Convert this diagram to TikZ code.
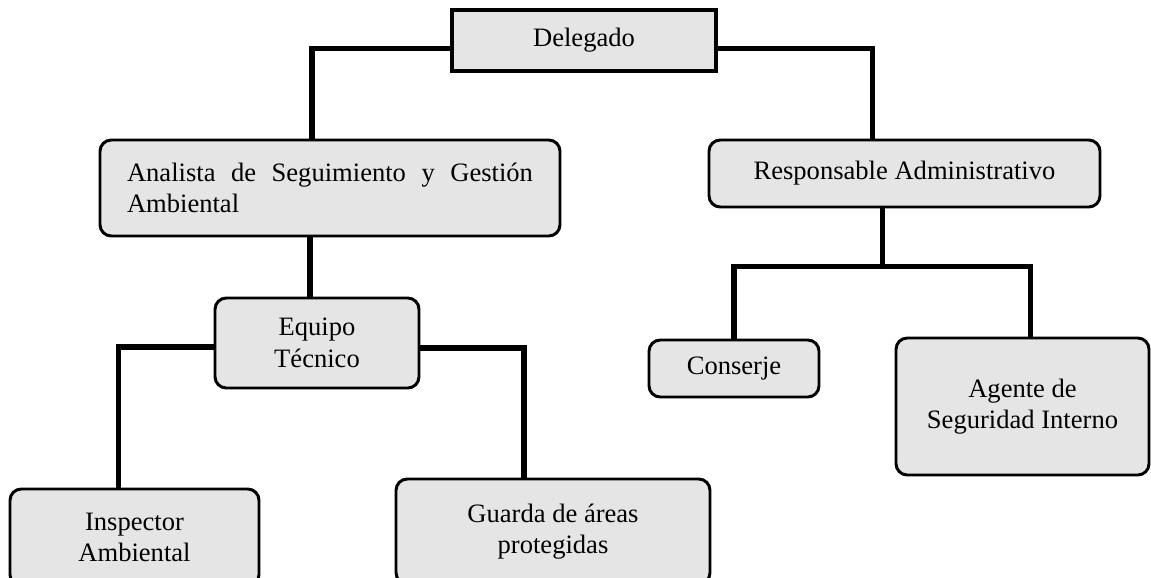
\documentclass[tikz,border=0pt]{standalone}
\usepackage{fontspec}
\setmainfont{Liberation Serif}
\usepackage{tikz}
\usetikzlibrary{calc}
\tolerance=9999
\hyphenpenalty=10000
\tikzset{
  cargo/.style={draw, line width=2.1pt, rounded corners=8pt, fill=gray!20, inner sep=0pt, align=center, font=\fontsize{18.9}{22.4}\selectfont},
  jefe/.style={draw, line width=2.8pt, fill=gray!20, inner sep=0pt, font=\fontsize{18.9}{22.4}\selectfont},
  enlace/.style={line width=3.6pt, line join=miter}
}

\begin{document}
\begin{tikzpicture}
        \useasboundingbox (0,0) rectangle (28.775,-14.425);
        \node (Del) at (14.6,-1.0125) [jefe, minimum width=6.6cm, minimum height=1.525cm] {Delegado};
        \node (Ana) at (8.25,-4.7) [cargo, minimum width=11.5cm, minimum height=2.4cm, text width=10.15cm, align=justify] {Analista de Seguimiento y Gestión Ambiental};
        \node (Res) at (22.6125,-4.3375) [cargo, minimum width=9.775cm, minimum height=1.675cm] {Responsable Administrativo};
        \node (Equ) at (7.925,-8.575) [cargo, minimum width=5.1cm, minimum height=2.25cm] {Equipo\\Técnico};
        \node (Con) at (18.35,-9.2125) [cargo, minimum width=4.25cm, minimum height=1.425cm] {Conserje};
        \node (Age) at (25.5625,-10.1625) [cargo, minimum width=6.325cm, minimum height=3.425cm] {Agente de\\Seguridad Interno};
        \node (Ins) at (3.3625,-13.4375) [cargo, minimum width=6.225cm, minimum height=2.425cm] {Inspector\\Ambiental};
        \node (Gua) at (13.825,-13.2875) [cargo, minimum width=7.85cm, minimum height=2.625cm] {Guarda de áreas\\protegidas};

        \coordinate (A) at ($(Ana.south)+(-0.5,0)$);
        \coordinate (R) at ($(Res.south)+(-0.54,0)$);
        \coordinate (R2) at ($(R)+(0,-1.45)$);

        \draw[enlace] ($(Del.west)+(0,-0.2)$) -| ($(Ana.north)+(-0.45,0)$);
        \draw[enlace] ($(Del.east)+(0,-0.2)$) -| ($(Res.north)+(-0.79,0)$);
        \draw[enlace] (A) -- (A |- Equ.north);
        \draw[enlace] (R) -- (R2);
        \draw[enlace] (Con.north) |- (R2) -| ($(Age.north)+(0.21,0)$);
        \draw[enlace] ($(Equ.west)+(0,-0.1)$) -| ($(Ins.north)+(-0.41,0)$);
        \draw[enlace] ($(Equ.east)+(0,-0.125)$) -| ($(Gua.north)+(-0.725,0)$);
    \end{tikzpicture}
\end{document}
